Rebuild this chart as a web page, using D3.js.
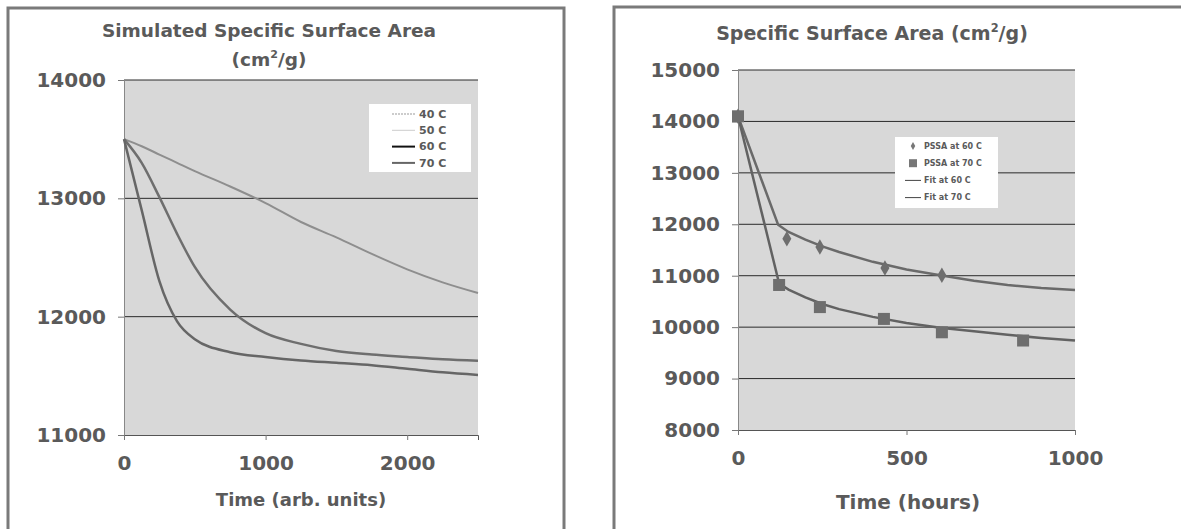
<!DOCTYPE html>
<html>
<head>
<meta charset="utf-8">
<script src="https://cdn.jsdelivr.net/npm/d3@7"></script>
<style>
  body { margin: 0; background: #fff; }
  text { font-family: "DejaVu Sans", Verdana, sans-serif; font-weight: bold; fill: #5a5a5a; }
</style>
</head>
<body>
<svg id="chart" width="1181" height="529"></svg>
<script>
// ---- left chart data (simulated) ----
const simTime = [0, 125, 250, 375, 500, 750, 1000, 1250, 1500, 1750, 2000, 2250, 2500];
const sim40 = [13500, 13440, 13370, 13300, 13230, 13100, 12960, 12800, 12670, 12530, 12400, 12290, 12200];
const sim50 = null; // in legend, curve not visible
const sim60 = [13500, 13300, 13010, 12700, 12420, 12060, 11860, 11770, 11710, 11680, 11660, 11640, 11627];
const sim70 = [13500, 12900, 12300, 11960, 11810, 11700, 11660, 11630, 11610, 11590, 11560, 11530, 11508];
const simYTicks = [11000, 12000, 13000, 14000];
const simXTicks = [0, 1000, 2000];
const simLegend = ["40 C", "50 C", "60 C", "70 C"];

// ---- right chart data (measured + fits) ----
const pssa60Time = [0, 145, 243, 436, 605];
const pssa60 = [14100, 11720, 11560, 11150, 11010];
const pssa70Time = [0, 122, 243, 433, 605, 846];
const pssa70 = [14100, 10820, 10390, 10160, 9900, 9740];
const fit60Time = [0, 119, 150, 200, 250, 300, 400, 500, 600, 700, 800, 900, 1000];
const fit60 = [14100, 11990, 11850, 11700, 11570, 11460, 11270, 11120, 11010, 10900, 10820, 10760, 10720];
const fit70Time = [0, 122, 150, 200, 250, 300, 400, 500, 600, 700, 800, 900, 1000];
const fit70 = [14100, 10850, 10730, 10580, 10450, 10350, 10200, 10080, 9990, 9920, 9850, 9790, 9740];
const ssaYTicks = [8000, 9000, 10000, 11000, 12000, 13000, 14000, 15000];
const ssaXTicks = [0, 500, 1000];
const ssaLegend = ["PSSA at 60 C", "PSSA at 70 C", "Fit at 60 C", "Fit at 70 C"];

const svg = d3.select("#chart");

// panel frames
svg.append("rect").attr("x", 8).attr("y", 8).attr("width", 556).attr("height", 540)
    .attr("fill", "#fff").attr("stroke", "#7a7a7a").attr("stroke-width", 3);
svg.append("rect").attr("x", 614).attr("y", 7).attr("width", 600).attr("height", 540)
    .attr("fill", "#fff").attr("stroke", "#7a7a7a").attr("stroke-width", 3);

const addTitle = (x, y, size, before, after) => {
    const t = svg.append("text").attr("x", x).attr("y", y)
        .attr("text-anchor", "middle").attr("font-size", size + "px").attr("fill", "#666");
    t.append("tspan").text(before);
    t.append("tspan").attr("font-size", (size * 0.6) + "px").attr("dy", -8).text("2");
    t.append("tspan").attr("dy", 8).text(after);
};

const drawFrame = (x, y, ticksY, ticksX) => {
    const [x0, x1] = x.range();
    const [y0, y1] = y.range();
    svg.append("rect").attr("x", x0).attr("y", y1).attr("width", x1 - x0).attr("height", y0 - y1)
        .attr("fill", "#d8d8d8");

    svg.append("g").selectAll("line").data(ticksY.slice(1)).join("line")
        .attr("x1", x0).attr("x2", x1)
        .attr("y1", d => y(d)).attr("y2", d => y(d))
        .attr("stroke", "#2a2a2a").attr("stroke-width", 1);

    const yAxis = svg.append("g").attr("transform", `translate(${x0},0)`)
        .call(d3.axisLeft(y).tickValues(ticksY).tickFormat(d3.format("d")).tickSize(6).tickPadding(12));
    yAxis.select(".domain").attr("stroke", "#888");
    yAxis.selectAll(".tick line").attr("stroke", "#777");
    yAxis.selectAll("text").attr("font-size", "20px").attr("fill", "#555")
        .attr("font-family", "'DejaVu Sans', Verdana, sans-serif");

    const xAxis = svg.append("g").attr("transform", `translate(0,${y0})`)
        .call(d3.axisBottom(x).tickValues(ticksX).tickFormat(d3.format("d")).tickSize(5).tickPadding(16));
    xAxis.select(".domain").attr("stroke", "#555");
    xAxis.selectAll(".tick line").attr("stroke", "#777");
    xAxis.selectAll("text").attr("font-size", "20px").attr("fill", "#555")
        .attr("font-family", "'DejaVu Sans', Verdana, sans-serif");
};

// ---------- left chart ----------
{
    const x = d3.scaleLinear().domain([0, 2500]).range([124, 478]);
    const y = d3.scaleLinear().domain([11000, 14000]).range([435, 80]);
    svg.append("text").attr("x", 269).attr("y", 37).attr("text-anchor", "middle")
        .attr("font-size", "18.5px").attr("fill", "#666").text("Simulated Specific Surface Area");
    addTitle(269, 66, 18.5, "(cm", "/g)");

    drawFrame(x, y, simYTicks, simXTicks);

    const line = d3.line().x(d => x(d[0])).y(d => y(d[1])).curve(d3.curveMonotoneX);
    const series = [
        { name: "40 C", vals: sim40, color: "#8e8e8e", width: 2 },
        { name: "50 C", vals: sim50, color: "#c8c8c8", width: 1 },
        { name: "60 C", vals: sim60, color: "#6e6e6e", width: 2.5 },
        { name: "70 C", vals: sim70, color: "#666", width: 2.5 }
    ];
    series.filter(s => s.vals).forEach(s => {
        svg.append("path").datum(simTime.map((t, i) => [t, s.vals[i]]))
            .attr("fill", "none").attr("stroke", s.color).attr("stroke-width", s.width)
            .attr("d", line);
    });

    svg.append("text").attr("x", 301).attr("y", 506).attr("text-anchor", "middle")
        .attr("font-size", "18px").text("Time (arb. units)");

    // legend
    const lg = svg.append("g").attr("transform", "translate(369,104)");
    lg.append("rect").attr("width", 102).attr("height", 68).attr("fill", "#fff");
    const legendStyles = [["#999", 1, "2,1"], ["#ccc", 1, null], ["#111", 2, null], ["#666", 2, null]];
    simLegend.forEach((name, i) => {
        const g = lg.append("g").attr("transform", `translate(0,${10 + i * 16.3})`);
        g.append("line").attr("x1", 23).attr("x2", 46).attr("stroke", legendStyles[i][0])
            .attr("stroke-width", legendStyles[i][1]).attr("stroke-dasharray", legendStyles[i][2]);
        g.append("text").attr("x", 50).attr("dy", "0.35em").attr("font-size", "11px").text(name);
    });
}

// ---------- right chart ----------
{
    const x = d3.scaleLinear().domain([0, 1000]).range([738, 1075]);
    const y = d3.scaleLinear().domain([8000, 15000]).range([430, 70]);
    addTitle(872, 40, 19, "Specific Surface Area (cm", "/g)");

    drawFrame(x, y, ssaYTicks, ssaXTicks);

    const line = d3.line().x(d => x(d[0])).y(d => y(d[1])).curve(d3.curveLinear);
    svg.append("path").datum(fit60Time.map((t, i) => [t, fit60[i]]))
        .attr("fill", "none").attr("stroke", "#6a6a6a").attr("stroke-width", 2.5).attr("d", line);
    svg.append("path").datum(fit70Time.map((t, i) => [t, fit70[i]]))
        .attr("fill", "none").attr("stroke", "#626262").attr("stroke-width", 2.5).attr("d", line);

    svg.append("g").selectAll("path").data(pssa60Time.map((t, i) => [t, pssa60[i]])).join("path")
        .attr("transform", d => `translate(${x(d[0])},${y(d[1])})`)
        .attr("d", d3.symbol(d3.symbolDiamond, 70))
        .attr("fill", "#6e6e6e");
    svg.append("g").selectAll("rect").data(pssa70Time.map((t, i) => [t, pssa70[i]])).join("rect")
        .attr("x", d => x(d[0]) - 6).attr("y", d => y(d[1]) - 6)
        .attr("width", 12).attr("height", 12)
        .attr("fill", "#6e6e6e");

    svg.append("text").attr("x", 908).attr("y", 509).attr("text-anchor", "middle")
        .attr("font-size", "20px").text("Time (hours)");

    // legend
    const lg = svg.append("g").attr("transform", "translate(895,137)");
    lg.append("rect").attr("width", 103).attr("height", 71).attr("fill", "#fff");
    ssaLegend.forEach((name, i) => {
        const g = lg.append("g").attr("transform", `translate(0,${9 + i * 17.2})`);
        if (i === 0) g.append("path").attr("transform", "translate(18,0)")
            .attr("d", d3.symbol(d3.symbolDiamond, 18)).attr("fill", "#777");
        else if (i === 1) g.append("rect").attr("x", 14).attr("y", -4).attr("width", 8).attr("height", 8).attr("fill", "#777");
        else g.append("line").attr("x1", 10).attr("x2", 26).attr("stroke", "#444").attr("stroke-width", 1);
        g.append("text").attr("x", 29).attr("dy", "0.35em").attr("font-size", "8px").text(name);
    });
}
</script>
</body>
</html>
